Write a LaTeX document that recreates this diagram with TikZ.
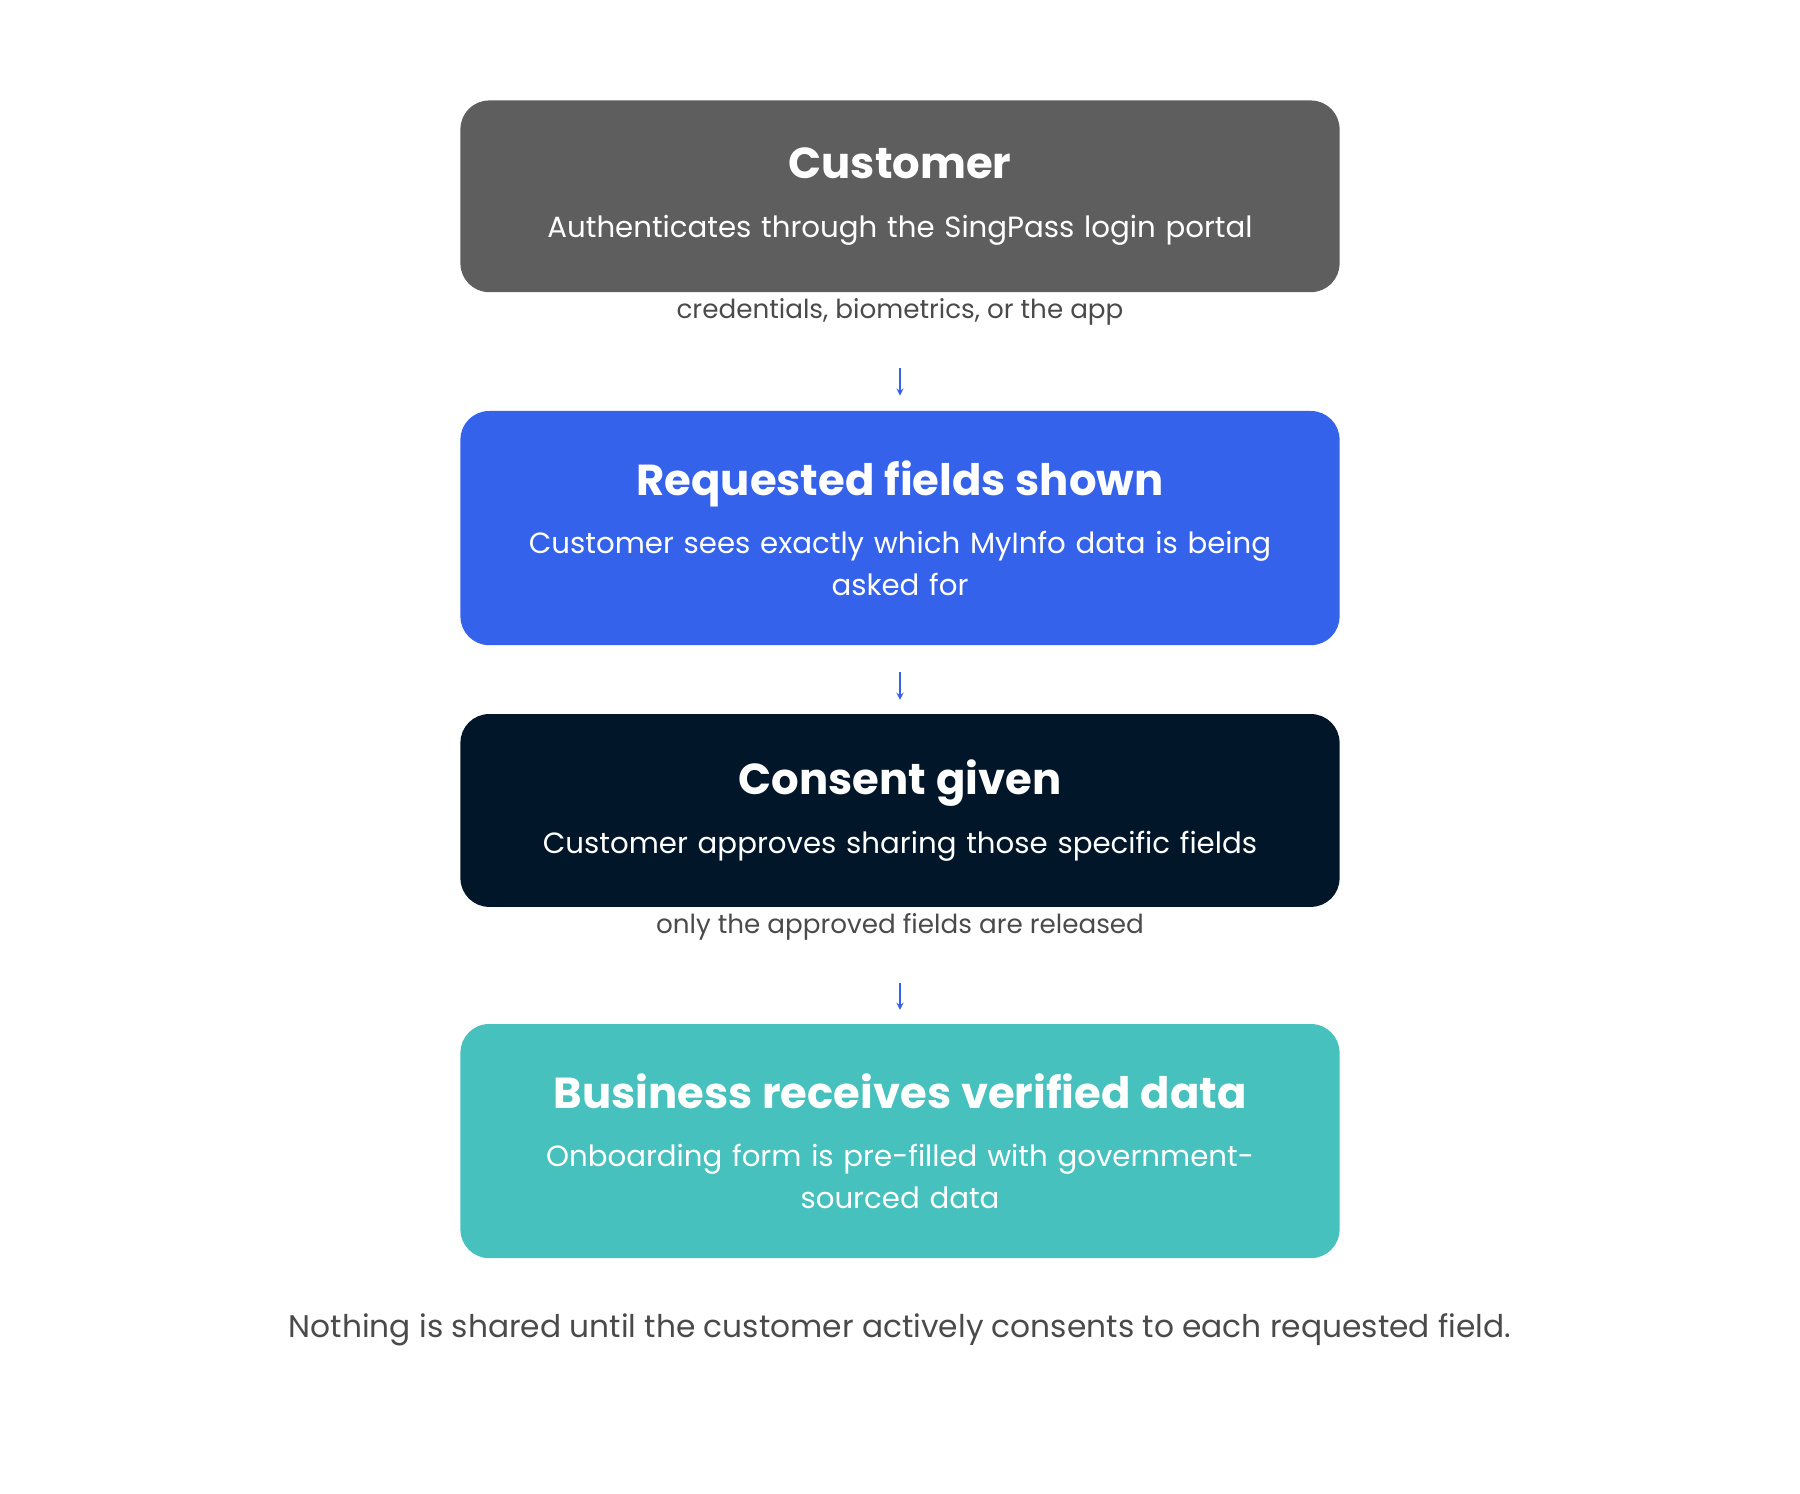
\documentclass[tikz,border=0pt]{standalone}
\usepackage{fontspec}
\setmainfont{Poppins}
\usetikzlibrary{positioning}
\definecolor{stepgray}{HTML}{5E5E5E}
\definecolor{stepblue}{HTML}{3562EB}
\definecolor{stepnavy}{HTML}{021629}
\definecolor{stepteal}{HTML}{46C1BE}
\definecolor{notegray}{HTML}{4A4A4A}
\begin{document}
\begin{tikzpicture}[
x=0.02cm, y=-0.02cm,
stage/.style={
rectangle,
rounded corners=0.5cm,
minimum width=15.32cm,
draw=none,
text=white,
align=center,
text width=13cm,
font=\fontsize{14.5}{20.5}\selectfont
},
note/.style={
draw=none,
fill=none,
color=notegray,
font=\fontsize{13}{16}\selectfont
},
flow/.style={
->,
>=stealth,
semithick,
color=stepblue
}]

\useasboundingbox (0,0) rectangle (1568,1301);

\node [stage,fill=stepgray,minimum height=3.34cm] (cust) at (784,171)
{{\fontsize{21.5}{26}\bfseries Customer}\\[0.3cm]
Authenticates through the SingPass login portal};
\node [note] (cred) at (784,272) {credentials, biometrics, or the app};

\node [stage,fill=stepblue,minimum height=4.08cm] (shown) at (784,460)
{{\fontsize{21.5}{26}\bfseries Requested fields shown}\\[0.3cm]
Customer sees exactly which MyInfo data is being\\ asked for};

\node [stage,fill=stepnavy,minimum height=3.36cm] (consent) at (784,706)
{{\fontsize{21.5}{26}\bfseries Consent given}\\[0.3cm]
Customer approves sharing those specific fields};
\node [note] (only) at (784,807) {only the approved fields are released};

\node [stage,fill=stepteal,minimum height=4.08cm] (biz) at (784,994)
{{\fontsize{21.5}{26}\bfseries Business receives verified data}\\[0.3cm]
Onboarding form is pre-filled with government-\\ sourced data};

\node [note,font=\fontsize{15.5}{19}\selectfont] (foot) at (784,1158)
{Nothing is shared until the customer actively consents to each requested field.};

\draw[flow,shorten <=0.62cm,shorten >=0.26cm] (cred.south) -- (shown.north);
\draw[flow,shorten <=0.46cm,shorten >=0.24cm] (shown.south) -- (consent.north);
\draw[flow,shorten <=0.62cm,shorten >=0.24cm] (only.south) -- (biz.north);

\end{tikzpicture}
\end{document}
